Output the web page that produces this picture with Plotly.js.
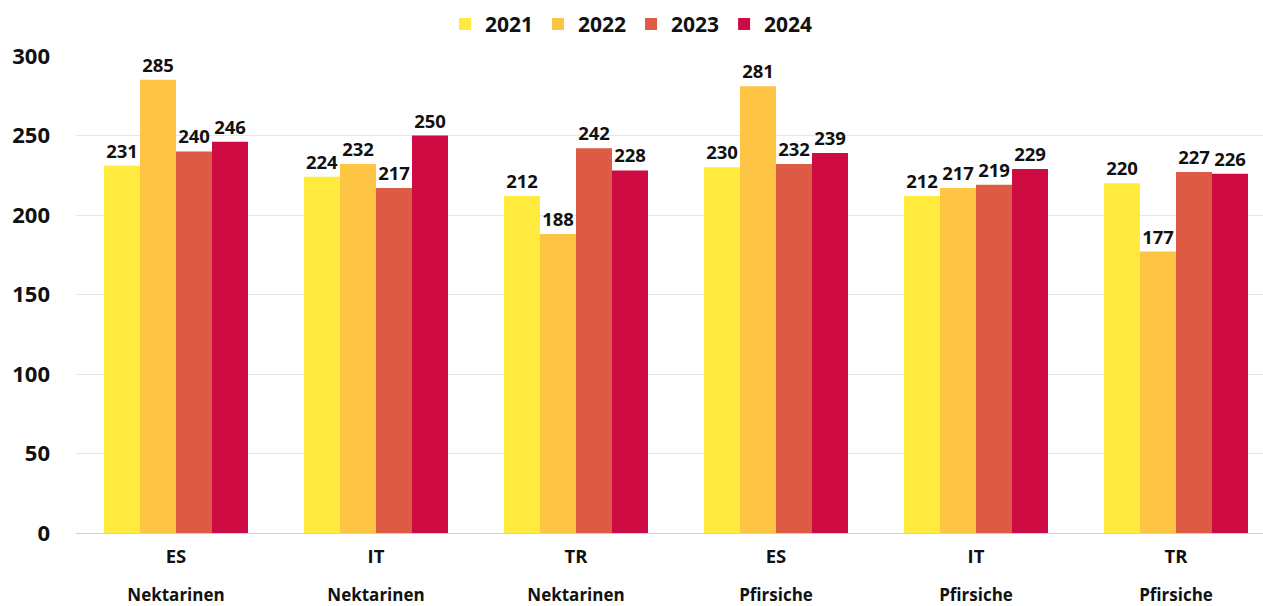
<!DOCTYPE html>
<html><head><meta charset="utf-8">
<script src="https://cdn.plot.ly/plotly-3.0.1.min.js"></script>
<style>html,body{margin:0;padding:0;background:#fff}#chart{width:1263px;height:606px}</style>
</head><body><div id="chart"></div>
<script>
const countries = ["ES","IT","TR","ES","IT","TR"];
const products = ["Nektarinen","Nektarinen","Nektarinen","Pfirsiche","Pfirsiche","Pfirsiche"];
const years = ["2021","2022","2023","2024"];
const v2021 = [231,224,212,230,212,220];
const v2022 = [285,232,188,281,217,177];
const v2023 = [240,217,242,232,219,227];
const v2024 = [246,250,228,239,229,226];
const yTicks = [0,50,100,150,200,250,300];

const series = [v2021,v2022,v2023,v2024];
const colors = ["#FFEA3D","#FEC443","#DD5A44","#CD0A42"];
const FONT = "Open Sans, sans-serif";
const idx = countries.map((c,i)=>i);
const tickText = countries.map((c,i)=>"<span style='font-size:18.5px'><b>"+c+"</b></span><br><br><span style='font-size:17px'><b>"+products[i]+"</b></span>");

const traces = series.map((vals,k)=>({
  type:"bar", name:years[k], x:idx, y:vals,
  marker:{color:colors[k]},
  text:vals.map(String), textposition:"outside", cliponaxis:false,
  textfont:{family:FONT,size:18.5,color:"#111",weight:"bold"},
  hoverinfo:"x+y"
}));

Plotly.newPlot("chart", traces, {
  width:1263, height:606,
  margin:{l:76,r:0,t:56,b:73},
  paper_bgcolor:"#fff", plot_bgcolor:"#fff",
  barmode:"group", bargap:0.28, bargroupgap:0,
  font:{family:FONT,color:"#111"},
  showlegend:true,
  legend:{orientation:"h",x:0.5,xref:"container",xanchor:"center",y:0.96,yref:"container",yanchor:"middle",
    font:{family:FONT,size:21,weight:"bold",color:"#111"},traceorder:"normal",itemwidth:30},
  xaxis:{tickmode:"array",tickvals:idx,ticktext:tickText,range:[-0.5,5.435],
    showgrid:false,zeroline:false,showline:false,ticks:"",ticklabelstandoff:14,
    tickfont:{family:FONT,size:14.6,color:"#111"}},
  yaxis:{range:[0,300],tickmode:"array",tickvals:yTicks,
    showgrid:true,gridcolor:"#e6e6e6",gridwidth:1,zeroline:true,zerolinecolor:"#d0d0d0",zerolinewidth:1,
    showline:false,ticks:"",ticklabelstandoff:25,
    tickfont:{family:FONT,size:22,weight:"bold",color:"#111"}}
}, {displayModeBar:false});
</script></body></html>
